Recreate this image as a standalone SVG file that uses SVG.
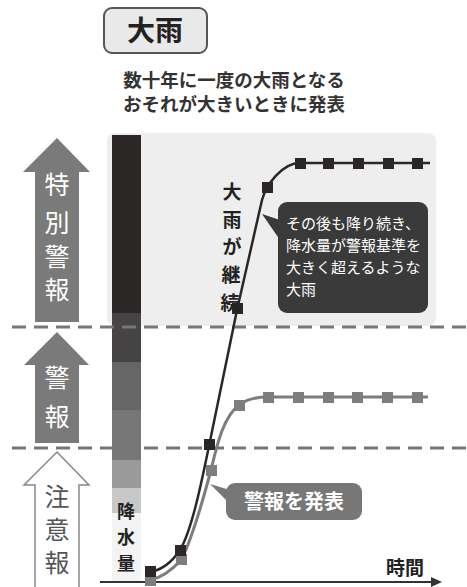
<svg xmlns="http://www.w3.org/2000/svg" width="467" height="587" viewBox="0 0 467 587">
<style>
text{font-family:"Noto Sans CJK JP","Noto Sans",sans-serif;}
.w{fill:#fff;font-size:25px;text-anchor:middle;}
.b{fill:#222;font-weight:bold;text-anchor:middle;}
.dash{stroke:#777;stroke-width:3;stroke-dasharray:14 8;fill:none;}
.mk{fill:#2b2727;}
.mg{fill:#7d7d7d;}
</style>
<rect width="467" height="587" fill="#fff"/>
<g id="title">
<rect x="104" y="8" width="103" height="45" rx="8" fill="#e9e9e9" stroke="#555" stroke-width="2"/>
<text x="155" y="41" class="b" style="font-size:28px">大雨</text>
</g>
<g id="subtitle">
<text x="234" y="87" class="b" style="font-size:18.5px;fill:#333">数十年に一度の大雨となる</text>
<text x="234" y="111" class="b" style="font-size:18.5px;fill:#333">おそれが大きいときに発表</text>
</g>
<g id="panel"><rect x="107" y="133" width="329" height="193" rx="8" fill="#eeeeee"/></g>
<g id="bar">
<rect x="112" y="135" width="29" height="178" fill="#2b2727"/>
<rect x="112" y="313" width="29" height="49" fill="#454343"/>
<rect x="112" y="362" width="29" height="48" fill="#666"/>
<rect x="112" y="410" width="29" height="50" fill="#777"/>
<rect x="112" y="460" width="29" height="28" fill="#9a9a9a"/>
<rect x="112" y="488" width="29" height="25" fill="#c8c8c8"/>
<rect x="112" y="513" width="29" height="70" fill="#f3f3f3"/>
<text x="126" y="518" class="b" style="font-size:18px">降</text>
<text x="126" y="544" class="b" style="font-size:18px">水</text>
<text x="126" y="570" class="b" style="font-size:18px">量</text>
</g>
<g id="arrow-special">
<polygon points="57,138 90,172 79,172 79,322 35,322 35,172 23,172" fill="#7a7a7a"/>
<text x="57" y="194" class="w">特</text>
<text x="57" y="232" class="w">別</text>
<text x="57" y="266" class="w">警</text>
<text x="57" y="299" class="w">報</text>
</g>
<g id="arrow-warning">
<polygon points="57,332 89,365 79,365 79,443 35,443 35,365 24,365" fill="#7a7a7a"/>
<text x="57" y="387" class="w">警</text>
<text x="57" y="426" class="w">報</text>
</g>
<g id="arrow-advisory">
<polygon points="57,452 89,485 79,485 79,592 35,592 35,485 24,485" fill="#fff" stroke="#888" stroke-width="1.5"/>
<text x="57" y="506" class="w" style="fill:#555">注</text>
<text x="57" y="539" class="w" style="fill:#555">意</text>
<text x="57" y="572" class="w" style="fill:#555">報</text>
</g>
<g id="connectors">
<line x1="12" y1="327" x2="467" y2="327" class="dash"/>
<line x1="12" y1="448" x2="467" y2="448" class="dash"/>
<line x1="100" y1="582" x2="433" y2="582" stroke="#333" stroke-width="2"/>
<polygon points="431,577 442,582 431,587" fill="#333"/>
<path d="M150,580 C160,578 172,570 181,560 C192,540 203,500 211,470 C216,450 222,418 239,405 C248,398 258,397 268,397 L428,397" fill="none" stroke="#7d7d7d" stroke-width="3"/>
<path d="M150,572 C162,570 172,562 180,550 C192,530 202,480 209,446 L237,310 L262,200 C266,185 282,163 300,163 L430,163" fill="none" stroke="#2b2727" stroke-width="2.5"/>
</g>
<g id="markers-gray">
<rect x="145" y="575" width="11" height="11" class="mg"/>
<rect x="176" y="554" width="11" height="11" class="mg"/>
<rect x="206" y="465" width="11" height="11" class="mg"/>
<rect x="234" y="400" width="11" height="11" class="mg"/>
<rect x="263" y="392" width="11" height="11" class="mg"/>
<rect x="293" y="392" width="11" height="11" class="mg"/>
<rect x="323" y="392" width="11" height="11" class="mg"/>
<rect x="352" y="392" width="11" height="11" class="mg"/>
<rect x="382" y="392" width="11" height="11" class="mg"/>
<rect x="412" y="392" width="11" height="11" class="mg"/>
</g>
<g id="markers-black">
<rect x="145" y="566" width="11" height="11" class="mk"/>
<rect x="175" y="545" width="11" height="11" class="mk"/>
<rect x="204" y="439" width="11" height="11" class="mk"/>
<rect x="232" y="303" width="11" height="11" class="mk"/>
<rect x="262" y="182" width="11" height="11" class="mk"/>
<rect x="295" y="158" width="11" height="11" class="mk"/>
<rect x="323" y="158" width="11" height="11" class="mk"/>
<rect x="353" y="158" width="11" height="11" class="mk"/>
<rect x="383" y="158" width="11" height="11" class="mk"/>
<rect x="412" y="158" width="11" height="11" class="mk"/>
</g>
<g id="label-continue">
<text x="232" y="199" class="b" style="font-size:19px">大</text>
<text x="232" y="227" class="b" style="font-size:19px">雨</text>
<text x="232" y="254" class="b" style="font-size:19px">が</text>
<text x="231" y="282" class="b" style="font-size:19px">継</text>
<text x="230" y="310" class="b" style="font-size:19px">続</text>
</g>
<g id="callout-dark">
<rect x="278" y="202" width="150" height="111" rx="9" fill="#3a3a3a"/>
<polygon points="280,220 262,214 280,240" fill="#3a3a3a"/>
<text x="286" y="229" style="font-size:15px;fill:#fff">その後も降り続き、</text>
<text x="286" y="251" style="font-size:15px;fill:#fff">降水量が警報基準を</text>
<text x="286" y="273" style="font-size:15px;fill:#fff">大きく超えるような</text>
<text x="286" y="295" style="font-size:15px;fill:#fff">大雨</text>
</g>
<g id="callout-gray">
<rect x="226" y="483" width="136" height="37" rx="9" fill="#777"/>
<polygon points="230,490 210,484 234,508" fill="#777"/>
<text x="294" y="509" class="b" style="font-size:20px;fill:#fff">警報を発表</text>
</g>
<g id="axis-label"><text x="405" y="575" class="b" style="font-size:19px">時間</text></g>
</svg>
